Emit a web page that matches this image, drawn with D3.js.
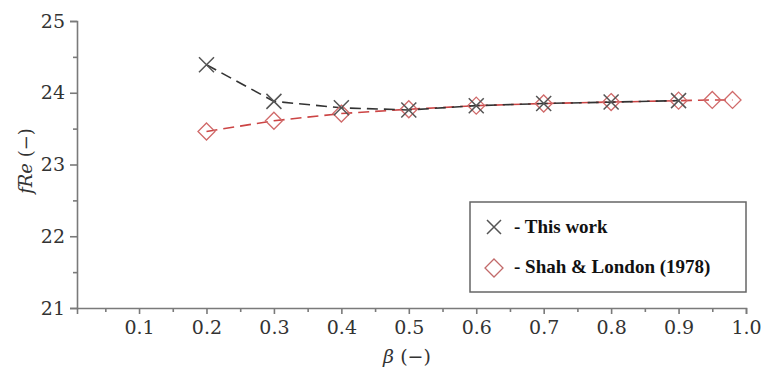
<!DOCTYPE html>
<html>
<head>
<meta charset="utf-8">
<script src="https://cdn.jsdelivr.net/npm/d3@7"></script>
<style>
  body { margin: 0; background: #fff; }
  svg { display: block; }
</style>
</head>
<body>
<svg id="chart"></svg>
<script>
// data
const betaWork = [0.2, 0.3, 0.4, 0.5, 0.6, 0.7, 0.8, 0.9];
const fReWork = [24.39, 23.88, 23.79, 23.76, 23.82, 23.85, 23.87, 23.89];
const betaShah = [0.2, 0.3, 0.4, 0.5, 0.6, 0.7, 0.8, 0.9, 0.95, 0.98];
const fReShah = [23.46, 23.61, 23.71, 23.77, 23.82, 23.85, 23.87, 23.89, 23.9, 23.9];
const xTicks = [0.1, 0.2, 0.3, 0.4, 0.5, 0.6, 0.7, 0.8, 0.9, 1.0];
const yTicks = [21, 22, 23, 24, 25];
const legendLabels = ['- This work', '- Shah & London (1978)'];

const width = 761, height = 372;
const margin = {top: 21, right: 15, bottom: 64, left: 77};
const w = 746 - margin.left;
const h = 308 - margin.top;

const svg = d3.select('#chart').attr('width', width).attr('height', height);
const g = svg.append('g').attr('transform', `translate(${margin.left},${margin.top})`);

const x = d3.scaleLinear().domain([0.008, 1.0]).range([0, w]);
const y = d3.scaleLinear().domain([21, 25]).range([h, 0]);

const axisColor = '#7a7a7a';
const tickFont = '"DejaVu Serif", serif';

// x axis
g.append('g').attr('transform', `translate(0,${h})`)
    .call(d3.axisBottom(x).tickValues(xTicks).tickFormat(d3.format('.1f')).tickSize(6).tickPadding(7));
g.append('g').attr('transform', `translate(0,${h})`)
    .call(d3.axisBottom(x).tickValues(d3.range(0.05, 1.0, 0.1)).tickFormat('').tickSize(4))
    .call(s => s.select('.domain').remove());

// y axis
g.append('g')
    .call(d3.axisLeft(y).tickValues(yTicks).tickFormat(d3.format('d')).tickSize(7).tickPadding(5));
g.append('g')
    .call(d3.axisLeft(y).tickValues([21.5, 22.5, 23.5, 24.5]).tickFormat('').tickSize(4))
    .call(s => s.select('.domain').remove());

g.selectAll('.domain, .tick line').attr('stroke', axisColor).attr('stroke-width', 1.6);
g.selectAll('.tick text').attr('font-family', tickFont).attr('font-size', 19)
    .attr('font-weight', 300).attr('fill', '#333');

// axis titles
svg.append('text')
    .attr('x', 407).attr('y', 363)
    .attr('text-anchor', 'middle')
    .attr('font-family', tickFont).attr('font-size', 19).attr('fill', '#333')
    .html('<tspan font-style="italic">β</tspan> (−)');
svg.append('text')
    .attr('transform', 'translate(32,161) rotate(-90)')
    .attr('text-anchor', 'middle')
    .attr('font-family', tickFont).attr('font-size', 18).attr('fill', '#333')
    .html('<tspan font-style="italic">fRe</tspan> (−)');

const work = betaWork.map((b, i) => ({b, v: fReWork[i]}));
const shah = betaShah.map((b, i) => ({b, v: fReShah[i]}));

const line = d3.line().x(d => x(d.b)).y(d => y(d.v));

const red = '#cc4444';
const dark = '#333';

g.append('path').datum(shah)
    .attr('fill', 'none').attr('stroke', red).attr('stroke-width', 1.6)
    .attr('stroke-dasharray', '11,6').attr('d', line);
g.append('path').datum(work)
    .attr('fill', 'none').attr('stroke', dark).attr('stroke-width', 1.6)
    .attr('stroke-dasharray', '11,6').attr('d', line);

const diamond = (cx, cy, r) => `M${cx},${cy - r}L${cx + r},${cy}L${cx},${cy + r}L${cx - r},${cy}Z`;
const cross = (cx, cy, r) => `M${cx - r},${cy - r}L${cx + r},${cy + r}M${cx - r},${cy + r}L${cx + r},${cy - r}`;

g.selectAll('.shah').data(shah).join('path')
    .attr('d', d => diamond(x(d.b), y(d.v), 8.5))
    .attr('fill', 'none').attr('stroke', '#d06a6a').attr('stroke-width', 1.3);
g.selectAll('.work').data(work).join('path')
    .attr('d', d => cross(x(d.b), y(d.v), 7.5))
    .attr('fill', 'none').attr('stroke', '#555').attr('stroke-width', 1.5);

// legend
const lg = svg.append('g');
lg.append('rect').attr('x', 470).attr('y', 202).attr('width', 276).attr('height', 90)
    .attr('fill', '#fff').attr('stroke', '#666').attr('stroke-width', 1.5);
lg.append('path').attr('d', cross(494, 227, 7)).attr('fill', 'none').attr('stroke', '#555').attr('stroke-width', 1.5);
lg.append('path').attr('d', diamond(494, 268, 9)).attr('fill', 'none').attr('stroke', '#c26a6a').attr('stroke-width', 1.3);
lg.selectAll('.lt').data(legendLabels).join('text')
    .attr('x', 514).attr('y', (d, i) => 233 + i * 40)
    .attr('font-family', '"Liberation Serif", serif').attr('font-weight', 'bold')
    .attr('font-size', 19).attr('fill', '#111')
    .text(d => d);
</script>
</body>
</html>
